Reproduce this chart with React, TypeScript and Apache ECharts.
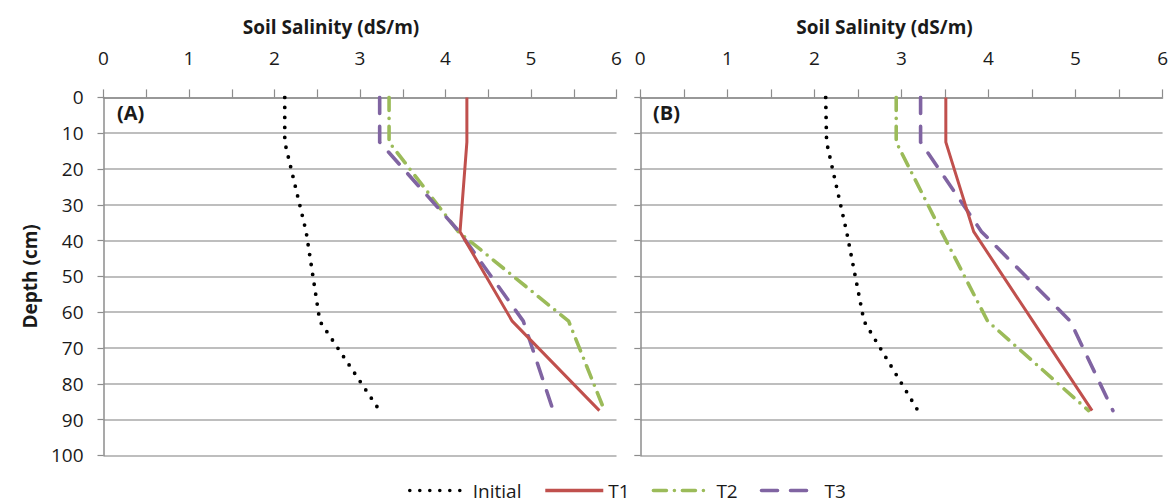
import React, { useEffect, useRef } from "react";
import * as echarts from "echarts";

const depths = [0, 12.5, 37.5, 62.5, 87.5];
const initialA = [2.12, 2.12, 2.37, 2.53, 3.23];
const t1A = [4.25, 4.25, 4.17, 4.78, 5.8];
const t2A = [3.34, 3.34, 4.15, 5.44, 5.86];
const t3A = [3.23, 3.23, 4.16, 4.91, 5.26];
const initialB = [2.13, 2.14, 2.37, 2.57, 3.19];
const t1B = [3.51, 3.51, 3.83, 4.51, 5.19];
const t2B = [2.94, 2.94, 3.46, 3.99, 5.15];
const t3B = [3.22, 3.22, 3.92, 4.94, 5.43];

const seriesNames = ["Initial", "T1", "T2", "T3"];
const panelLabels = ["(A)", "(B)"];
const xTitle = "Soil Salinity (dS/m)";
const yTitle = "Depth (cm)";

const FONT = "'Open Sans', sans-serif";
const AXIS_GREY = "#8c8c8c";
const GRID_GREY = "#a8a8a8";
const TEXT = "#1a1a1a";

const styles: Record<string, any> = {
  Initial: { color: "#000000", width: 3.8, type: [0, 10], cap: "round" },
  T1: { color: "#c0504d", width: 3, type: "solid", cap: "butt" },
  T2: { color: "#9bbb59", width: 3.6, type: [13, 8, 0, 8], cap: "round" },
  T3: { color: "#8064a2", width: 3.6, type: [16, 13], cap: "round" },
};

function pairs(xs: number[]) {
  return xs.map((v, i) => [v, depths[i]]);
}

export default function App() {
  const ref = useRef<HTMLDivElement>(null);
  useEffect(() => {
    if (!ref.current) return;
    const chart = echarts.init(ref.current, null, { renderer: "svg" });
    const grids = [
      { left: 103.5, top: 97.4, width: 513, height: 358 },
      { left: 640.3, top: 97.4, width: 524.2, height: 358 },
    ];
    const xAxes = grids.map((_, i) => ({
      type: "value",
      gridIndex: i,
      position: "top",
      min: 0,
      max: 6,
      interval: 1,
      axisLine: { show: true, lineStyle: { color: AXIS_GREY, width: 1.5 } },
      axisTick: { show: true, length: 8, lineStyle: { color: AXIS_GREY, width: 1.2 } },
      minorTick: { show: true, splitNumber: 2, length: 8, lineStyle: { color: AXIS_GREY, width: 1.2 } },
      axisLabel: { fontFamily: FONT, fontSize: 19, color: TEXT, margin: 30 },
      splitLine: { show: false },
    }));
    const yAxes = grids.map((_, i) => ({
      type: "value",
      gridIndex: i,
      inverse: true,
      min: 0,
      max: 100,
      interval: 10,
      name: i === 0 ? yTitle : "",
      nameLocation: "middle",
      nameGap: 64,
      nameRotate: 90,
      nameTextStyle: { fontFamily: FONT, fontSize: 19, fontWeight: "bold", color: TEXT },
      axisLine: { show: true, lineStyle: { color: AXIS_GREY, width: 1.5 } },
      axisTick: { show: true, length: 6, lineStyle: { color: AXIS_GREY, width: 1.2 } },
      axisLabel: { show: i === 0, fontFamily: FONT, fontSize: 19, color: TEXT, margin: 20 },
      splitLine: { show: true, lineStyle: { color: GRID_GREY, width: 1.6 } },
    }));
    const panels = [
      [initialA, t1A, t2A, t3A],
      [initialB, t1B, t2B, t3B],
    ];
    const series: any[] = [];
    panels.forEach((set, p) => {
      set.forEach((vals, k) => {
        const name = seriesNames[k];
        const st = styles[name];
        series.push({
          type: "line",
          name,
          xAxisIndex: p,
          yAxisIndex: p,
          data: pairs(vals),
          showSymbol: false,
          symbol: "none",
          itemStyle: { color: st.color },
          lineStyle: { color: st.color, width: st.width, type: st.type, cap: st.cap, join: "round" },
          z: k === 1 ? 3 : 2,
        });
      });
    });
    chart.setOption({
      animation: false,
      backgroundColor: "#ffffff",
      grid: grids,
      xAxis: xAxes,
      yAxis: yAxes,
      series,
      legend: {
        data: seriesNames,
        left: 403,
        top: 476,
        itemWidth: 58,
        itemHeight: 20,
        itemGap: 22,
        itemStyle: { opacity: 0 },
        lineStyle: { width: 3.6 },
        textStyle: { fontFamily: FONT, fontSize: 19, color: TEXT },
      },
      graphic: [
        {
          type: "text",
          x: 331,
          y: 27,
          style: { text: xTitle, font: `bold 19px ${FONT}`, fill: TEXT, textAlign: "center", textVerticalAlign: "middle" },
        },
        {
          type: "text",
          x: 884.5,
          y: 27,
          style: { text: xTitle, font: `bold 19px ${FONT}`, fill: TEXT, textAlign: "center", textVerticalAlign: "middle" },
        },
        {
          type: "text",
          left: 117,
          top: 102,
          style: { text: panelLabels[0], font: `bold 20px ${FONT}`, fill: TEXT },
        },
        {
          type: "text",
          left: 653,
          top: 102,
          style: { text: panelLabels[1], font: `bold 20px ${FONT}`, fill: TEXT },
        },
      ],
    });
    return () => chart.dispose();
  }, []);
  return (
    <div
      ref={ref}
      style={{ position: "fixed", left: 0, top: 0, width: 1171, height: 503, background: "#fff" }}
    />
  );
}
